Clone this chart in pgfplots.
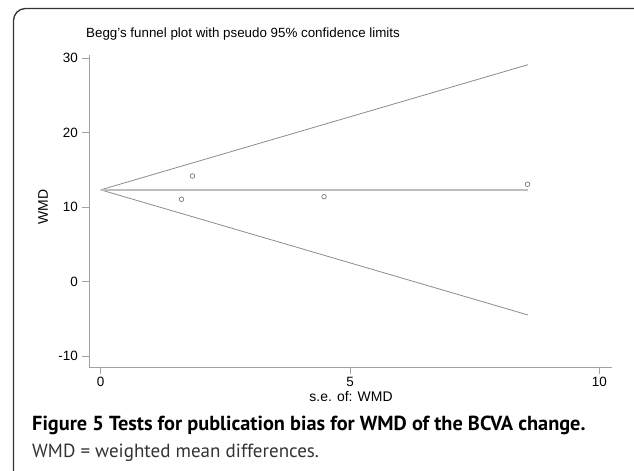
\documentclass[border=0pt]{standalone}
\usepackage{fontspec}
\setmainfont{Liberation Sans}
\newfontfamily\capfont{PT Sans}
\usepackage{pgfplots}
\pgfplotsset{compat=1.18}

\definecolor{axisgray}{HTML}{A0A0A0}
\definecolor{limgray}{HTML}{8C8C8C}
\definecolor{midgray}{HTML}{BEBEBE}
\definecolor{markgray}{HTML}{7A7A7A}

\begin{document}
\begin{tikzpicture}[x=1bp,y=1bp]
\path (0,0) rectangle (634,471);
% panel frame, runs off the right and bottom edges
\begin{scope}
  \clip (0,0) rectangle (634,471);
  \draw[overlay, line width=1.3bp, black!80, rounded corners=12bp] (13.5,462.5) rectangle (650,-14);
\end{scope}

\coordinate (axo) at (89.3,104);
\begin{axis}[
    at={(axo)}, anchor=south west,
    scale only axis, width=522.7bp, height=312bp,
    xmin=-0.229, xmax=10.255,
    ymin=-11.48, ymax=30.40,
    axis lines=left,
    axis line style={-, axisgray, line width=0.9bp},
    xtick={0,5,10}, ytick={-10,0,10,20,30},
    tick align=outside, major tick length=7.5bp,
    tick style={axisgray, line width=0.9bp},
    tick label style={font=\fontsize{13.5}{13.5}\selectfont},
    xticklabel style={yshift=0.5bp},
    yticklabel style={xshift=-0.5bp},
    /pgf/number format/assume math mode=true,
    clip=false,
]
% pseudo 95% confidence limits and pooled estimate
\addplot[limgray, line width=0.8bp] coordinates {(0,12.30) (8.57,29.10)};
\addplot[limgray, line width=0.8bp] coordinates {(0,12.30) (8.57,-4.50)};
\addplot[midgray, line width=1.7bp] coordinates {(0,12.30) (8.57,12.30)};
% studies
\addplot[only marks, mark=o, mark size=2.3bp, mark options={markgray, line width=0.7bp}]
  coordinates {(1.84,14.16) (1.62,11.03) (4.48,11.38) (8.56,13.05)};
\end{axis}

\node[anchor=base west, inner sep=0pt, font=\fontsize{13.4}{13}\selectfont] at (86,433)
  {Begg's funnel plot with pseudo 95\% confidence limits};
\node[rotate=90, inner sep=0pt, font=\fontsize{14}{14}\selectfont] at (43,264) {WMD};
\node[inner sep=0pt, font=\fontsize{14}{14}\selectfont] at (351,74) {s.e. of: WMD};

\node[anchor=base west, inner sep=0pt, font=\capfont\bfseries\fontsize{20.4}{20}\selectfont] at (32,40)
  {Figure 5 Tests for publication bias for WMD of the BCVA change.};
\node[anchor=base west, inner sep=0pt, font=\capfont\fontsize{19.1}{20}\selectfont, black!80] at (32,13.3)
  {WMD = weighted mean differences.};
\end{tikzpicture}
\end{document}
